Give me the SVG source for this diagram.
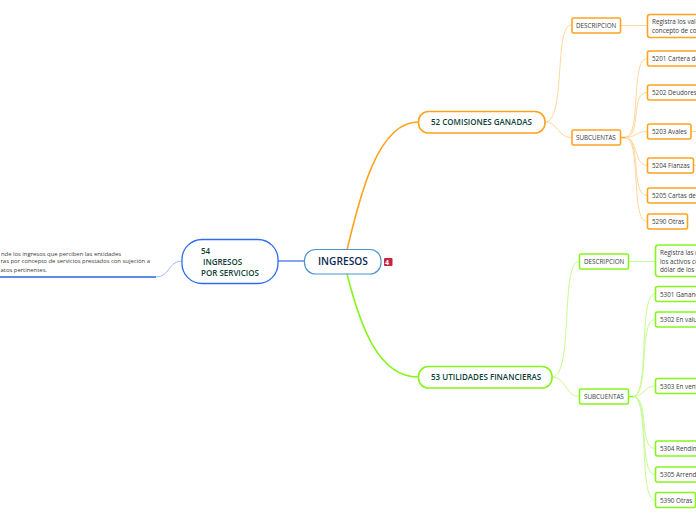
<svg xmlns="http://www.w3.org/2000/svg" width="696" height="520" viewBox="0 0 696 520">
<style>
text{font-family:"Open Sans","Noto Sans","Liberation Sans",sans-serif;white-space:pre}
.s{font-size:6.3px;fill:#3a3a3a}
.d{font-size:5.9px;fill:#3a3a3a}
.m{font-size:8px;font-weight:600;fill:#0e3f38}
.o{fill:#fff;stroke:#ffa31f;stroke-width:1.6}
.g{fill:#fff;stroke:#86f51c;stroke-width:1.6}
.lo{fill:none;stroke:#ffd79c;stroke-width:1}
.lg{fill:none;stroke:#c6fb94;stroke-width:1}
</style>
<g id="connectors">
<path d="M347 250C360 195 378 122 418 122" fill="none" stroke="#ffa31f" stroke-width="1.6"/>
<path d="M347 274C360 325 378 377 418 377" fill="none" stroke="#86f51c" stroke-width="1.6"/>
<path d="M304 261H278" fill="none" stroke="#4f7ff0" stroke-width="1.4"/>
<path d="M0 277H156" fill="none" stroke="#2a63e0" stroke-width="1.4"/>
<path d="M156 277C170 277 168 261 182 261" fill="none" stroke="#9dbcf8" stroke-width="1"/>
<path class="lo" d="M545 122C566 122 554 25 571 25"/>
<path class="lo" d="M545 122C558 122 558 137.500 571 137.500"/>
<path class="lo" d="M621 25.500H647"/>
<path d="M621 137.500H627" fill="none" stroke="#ffa31f" stroke-width="1.500"/>
<path class="lo" d="M625 137.500C642 137.500 630 58.500 647 58.500"/>
<path class="lo" d="M625 137.500C642 137.500 630 92.500 647 92.500"/>
<path class="lo" d="M625 137.500C636 137.500 636 131.500 647 131.500"/>
<path class="lo" d="M625 137.500C638 137.500 634 165.500 647 165.500"/>
<path class="lo" d="M625 137.500C642 137.500 630 195.500 647 195.500"/>
<path class="lo" d="M625 137.500C642 137.500 630 221.500 647 221.500"/>
<path class="lo" d="M691 131.500H696M694 165.500H696"/>
<path class="lg" d="M552 377C574 377 560 261.500 579 261.500"/>
<path class="lg" d="M552 377C566 377 566 396.500 579 396.500"/>
<path class="lg" d="M629 261.500H655"/>
<path d="M629 396.500H635" fill="none" stroke="#86f51c" stroke-width="1.500"/>
<path class="lg" d="M633 396.500C650 396.500 638 294 655 294"/>
<path class="lg" d="M633 396.500C650 396.500 638 319.500 655 319.500"/>
<path class="lg" d="M633 396.500C644 396.500 644 386 655 386"/>
<path class="lg" d="M633 396.500C650 396.500 638 448.500 655 448.500"/>
<path class="lg" d="M633 396.500C650 396.500 638 474.500 655 474.500"/>
<path class="lg" d="M633 396.500C650 396.500 638 500 655 500"/>
</g>
<g id="root"><rect x="304.500" y="249.500" width="76.500" height="24.500" rx="11" fill="#fff" stroke="#4a93cc" stroke-width="1.200"/><text x="318" y="265" font-size="10.200" font-weight="600" fill="#0c2a52">INGRESOS</text></g>
<g id="icon"><rect x="384" y="258" width="8.500" height="8" rx="1" fill="#c9243f"/><text x="385" y="265" font-size="7" font-weight="700" fill="#fff">4</text></g>
<g id="n54"><rect x="182" y="239.500" width="96" height="44" rx="20" fill="#fff" stroke="#2f6bf0" stroke-width="1.300"/><text class="m" x="201" y="254">54</text><text class="m" x="203" y="265">INGRESOS</text><text class="m" x="201" y="276">POR SERVICIOS</text></g>
<g id="n54d"><text class="d" x="121" y="255.500" text-anchor="end">nde los ingresos que perciben las entidades</text><text class="d" x="150" y="262.500" text-anchor="end">ras por concepto de servicios prestados con sujeción a</text><text class="d" x="47" y="272" text-anchor="end">atos pertinentes.</text></g>
<g id="n52"><rect class="o" x="418.500" y="111.500" width="126.500" height="21.500" rx="10"/><text class="m" x="431" y="125">52 COMISIONES GANADAS</text></g>
<g id="n53"><rect class="g" x="418.500" y="366.500" width="133.500" height="21.500" rx="10"/><text class="m" x="431" y="380">53 UTILIDADES FINANCIERAS</text></g>
<g id="o1"><rect class="o" x="572" y="18" width="48.500" height="15" rx="1.500"/><text class="s" x="576" y="28">DESCRIPCION</text></g>
<g id="o2"><rect class="o" x="572" y="130" width="48.500" height="15" rx="1.500"/><text class="s" x="576" y="140">SUBCUENTAS</text></g>
<g id="o3"><rect class="o" x="647.500" y="14.500" width="60" height="23" rx="2.500"/><text class="s" x="652" y="24">Registra los valo</text><text class="s" x="652" y="33">concepto de con</text></g>
<g id="o4"><rect class="o" x="647.500" y="51" width="60" height="15" rx="2"/><text class="s" x="652" y="61">5201 Cartera de</text></g>
<g id="o5"><rect class="o" x="647.500" y="85" width="60" height="15" rx="2"/><text class="s" x="652" y="95">5202 Deudores</text></g>
<g id="o6"><rect class="o" x="647.500" y="124" width="43.500" height="15" rx="2"/><text class="s" x="652" y="134">5203 Avales</text></g>
<g id="o7"><rect class="o" x="647.500" y="158" width="46" height="15" rx="2"/><text class="s" x="652" y="168">5204 Fianzas</text></g>
<g id="o8"><rect class="o" x="647.500" y="188" width="60" height="15" rx="2"/><text class="s" x="652" y="198">5205 Cartas de</text></g>
<g id="o9"><rect class="o" x="647.500" y="214" width="40" height="15" rx="2"/><text class="s" x="652" y="224">5290 Otras</text></g>
<g id="g1"><rect class="g" x="579.500" y="254" width="49" height="15" rx="1.500"/><text class="s" x="584" y="264">DESCRIPCION</text></g>
<g id="g2"><rect class="g" x="579.500" y="389" width="49" height="15" rx="1.500"/><text class="s" x="584" y="399">SUBCUENTAS</text></g>
<g id="g3"><rect class="g" x="655.500" y="245" width="60" height="31.500" rx="3"/><text class="s" x="660" y="255">Registra las u</text><text class="s" x="660" y="263.500">los activos co</text><text class="s" x="660" y="272">dólar de los E</text></g>
<g id="g4"><rect class="g" x="655.500" y="286.500" width="60" height="15" rx="2"/><text class="s" x="660" y="296.500">5301 Ganano</text></g>
<g id="g5"><rect class="g" x="655.500" y="312" width="60" height="15" rx="2"/><text class="s" x="660" y="322">5302 En valu</text></g>
<g id="g6"><rect class="g" x="655.500" y="378.500" width="60" height="15" rx="2"/><text class="s" x="660" y="388.500">5303 En vent</text></g>
<g id="g7"><rect class="g" x="655.500" y="441" width="60" height="15" rx="2"/><text class="s" x="660" y="451">5304 Rendim</text></g>
<g id="g8"><rect class="g" x="655.500" y="467" width="60" height="15" rx="2"/><text class="s" x="660" y="477">5305 Arrendi</text></g>
<g id="g9"><rect class="g" x="655.500" y="492.500" width="40" height="15" rx="2"/><text class="s" x="660" y="502.500">5390 Otras</text></g>
</svg>
